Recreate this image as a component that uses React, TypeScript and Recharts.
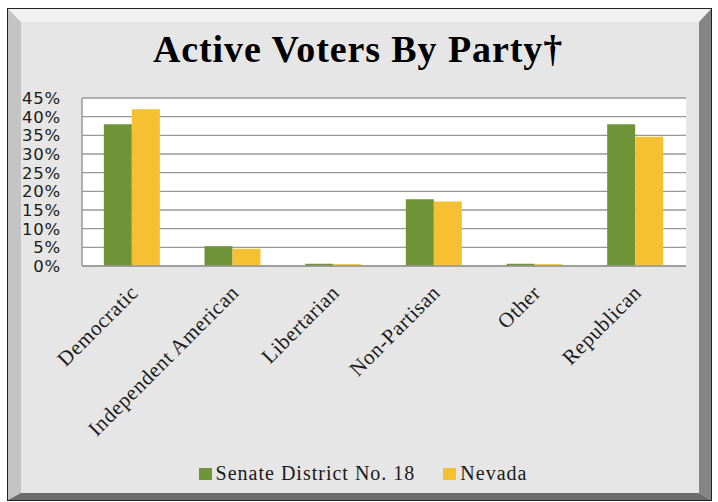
import React from 'react';
import { BarChart, Bar, XAxis, YAxis, CartesianGrid, Legend } from 'recharts';

const categories = ['Democratic', 'Independent American', 'Libertarian', 'Non-Partisan', 'Other', 'Republican'];
const senateDistrict = [38.0, 5.3, 0.6, 17.9, 0.6, 38.0];
const nevada = [42.0, 4.6, 0.5, 17.3, 0.5, 34.6];
const yTicks = [0, 5, 10, 15, 20, 25, 30, 35, 40, 45];
const seriesNames = ['Senate District No. 18', 'Nevada'];
const seriesColors = ['#6e9437', '#f5c132'];

const data = categories.map((c, i) => ({ name: c, senate: senateDistrict[i], nevada: nevada[i] }));

const W = 718;
const H = 502;

const XTick = (props: any) => {
  const { x, y, payload } = props;
  const ax = x + 7;
  const ay = y + 28;
  return (
    <text
      x={ax}
      y={ay}
      textAnchor="end"
      transform={`rotate(-45, ${ax}, ${ay})`}
      fontFamily="'Liberation Serif', 'Times New Roman', serif"
      fontSize={21}
      letterSpacing={0.6}
      fill="#1a1a1a"
    >
      {payload.value}
    </text>
  );
};

const renderLegend = () => (
  <div style={{ display: 'flex', justifyContent: 'center', alignItems: 'center', width: W, paddingLeft: 8, boxSizing: 'border-box' }}>
    {seriesNames.map((n, i) => (
      <div key={n} style={{ display: 'flex', alignItems: 'center', marginRight: i === 0 ? 28 : 0 }}>
        <div style={{ width: 13, height: 12, background: seriesColors[i], marginRight: 4 }} />
        <span
          style={{
            fontFamily: "'Liberation Serif', 'Times New Roman', serif",
            fontSize: 20,
            letterSpacing: 1,
            color: '#1a1a1a',
          }}
        >
          {n}
        </span>
      </div>
    ))}
  </div>
);

const Frame = () => (
  <svg width={W} height={H} style={{ position: 'absolute', left: 0, top: 0 }}>
    <rect x={0} y={0} width={W} height={H} fill="#ffffff" />
    <rect x={7.5} y={8.5} width={704} height={492} fill="#e6e6e6" stroke="#222" strokeWidth={1} />
    <polygon points="8,9 711,9 699,22 21,22" fill="#f1f1f1" />
    <polygon points="8,9 21,22 21,493 8,500" fill="#c4c4c4" />
    <polygon points="711,9 711,500 699,493 699,22" fill="#858585" />
    <polygon points="8,500 711,500 699,493 21,493" fill="#6c6c6c" />
    <text
      x={358}
      y={62}
      textAnchor="middle"
      fontFamily="'Liberation Serif', 'Times New Roman', serif"
      fontWeight="bold"
      fontSize={38}
      letterSpacing={0.9}
      fill="#000"
    >
      Active Voters By Party†
    </text>
  </svg>
);

export default function App() {
  return (
    <div style={{ position: 'absolute', left: 0, top: 0, width: W, height: H }}>
      <Frame />
      <div style={{ position: 'absolute', left: 0, top: 0 }}>
        <BarChart
          width={W}
          height={H}
          data={data}
          margin={{ top: 98, right: 32, left: 22, bottom: 4 }}
          barCategoryGap="21.7%"
          barGap={0}
        >
          <CartesianGrid vertical={false} fill="#ffffff" stroke="#999999" strokeWidth={1.3} />
          <XAxis
            dataKey="name"
            interval={0}
            tick={<XTick />}
            tickLine={false}
            tickSize={0}
            tickMargin={0}
            height={196}
            axisLine={{ stroke: '#999999', strokeWidth: 1.5 }}
          />
          <YAxis
            width={60}
            domain={[0, 45]}
            ticks={yTicks}
            interval={0}
            tickFormatter={(v: number) => `${v}%`}
            tickLine={false}
            tickSize={0}
            tickMargin={21}
            axisLine={{ stroke: '#999999', strokeWidth: 1.5 }}
            tick={{ fill: '#1a1a1a', fontSize: 16.5, fontFamily: "'DejaVu Sans', Verdana, sans-serif", letterSpacing: 0.8 }}
          />
          <Legend verticalAlign="bottom" height={36} content={renderLegend} wrapperStyle={{ left: 0, width: W }} />
          <Bar dataKey="senate" name={seriesNames[0]} fill={seriesColors[0]} isAnimationActive={false} />
          <Bar dataKey="nevada" name={seriesNames[1]} fill={seriesColors[1]} isAnimationActive={false} />
        </BarChart>
      </div>
    </div>
  );
}
